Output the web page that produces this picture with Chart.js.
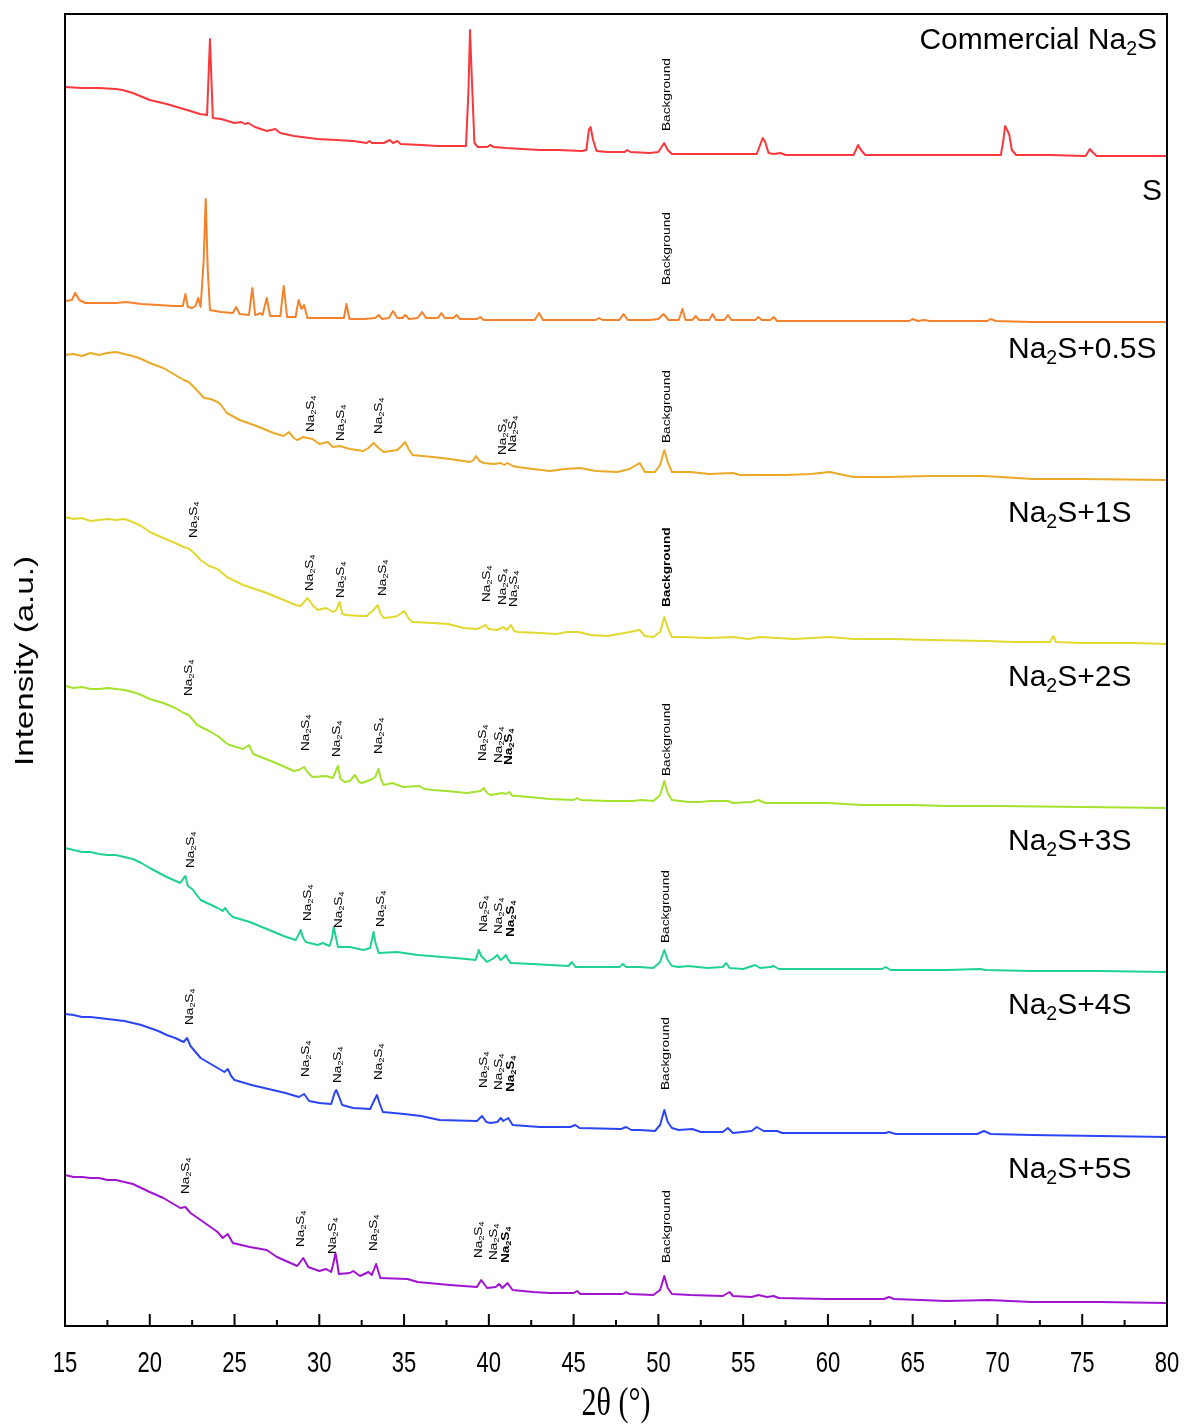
<!DOCTYPE html>
<html>
<head>
<meta charset="utf-8">
<script src="https://cdn.jsdelivr.net/npm/chart.js@4.4.1/dist/chart.umd.min.js"></script>
<style>
  html, body { margin: 0; padding: 0; background: #fff; }
  #wrap { width: 1185px; height: 1427px; }
</style>
</head>
<body>
<div id="wrap"><canvas id="xrd-chart" width="1185" height="1427"></canvas></div>
<script>
// XRD patterns: [2θ (deg), intensity (a.u.)], each measured from its own baseline
const commercialNa2S = [[15.0,69],[16.0,68],[17.0,68],[18.0,67],[18.4,66],[19.0,63],[20.0,56],[21.0,52],[22.0,47],[22.96,42],[23.38,41],[23.55,117],[23.72,38],[24.2,37],[25.0,33],[25.4,34],[25.6,32],[25.8,33],[26.2,29],[26.9,25],[27.4,27],[27.7,23],[28.5,20],[29.9,17],[31.0,16],[32.0,15],[32.8,13],[32.95,15],[33.1,13],[33.8,13],[34.15,16],[34.35,13],[34.6,15],[34.8,12],[36.0,11],[37.0,10],[38.65,10],[38.8,66],[38.89,126],[39.0,76],[39.15,13],[39.35,9],[39.9,9],[40.07,11],[40.3,9],[41.0,8],[42.0,7],[43.0,6],[44.1,6],[45.5,5],[45.75,6],[45.9,26],[46.0,29],[46.15,16],[46.35,5],[47.0,4],[48.0,4],[48.16,6],[48.35,4],[49.5,3],[50.0,4],[50.15,8],[50.34,13],[50.55,6],[50.8,2],[52.0,2],[54.0,2],[55.8,2],[56.0,11],[56.15,18],[56.3,14],[56.5,3],[56.8,2],[57.2,3],[57.5,1],[59.0,1],[61.5,1],[61.65,6],[61.78,11],[61.95,6],[62.2,1],[63.5,1],[65.0,1],[67.0,1],[69.0,1],[70.2,1],[70.35,16],[70.45,30],[70.6,25],[70.7,21],[70.85,6],[71.1,1],[73.0,1],[75.2,0],[75.45,7],[75.6,4],[75.85,0],[78.0,0],[80.0,0]];

const sulfur = [[15.0,21],[15.4,22],[15.6,29],[15.85,22],[16.2,19],[17.0,19],[18.0,19],[18.6,20],[19.5,18],[20.5,17],[21.4,16],[21.95,16],[22.1,28],[22.25,15],[22.5,14],[22.7,16],[22.85,24],[23.0,15],[23.18,62],[23.3,123],[23.42,52],[23.55,12],[24.2,10],[24.9,9],[25.1,15],[25.3,8],[25.85,7],[26.05,34],[26.22,7],[26.4,8],[26.5,9],[26.65,7],[26.9,24],[27.1,6],[27.7,6],[27.9,36],[28.1,5],[28.6,5],[28.78,22],[28.95,13],[29.1,17],[29.3,4],[30.0,4],[30.8,4],[31.45,4],[31.6,18],[31.78,3],[32.6,3],[33.3,4],[33.5,7],[33.7,3],[34.1,4],[34.35,11],[34.6,4],[34.9,4],[35.06,7],[35.3,3],[35.8,4],[36.06,10],[36.3,4],[37.0,4],[37.2,9],[37.4,4],[37.9,4],[38.1,7],[38.3,3],[39.3,3],[39.5,5],[39.7,2],[41.0,2],[42.7,2],[42.96,9],[43.2,2],[44.0,2],[46.3,2],[46.5,4],[46.7,2],[47.7,2],[47.95,8],[48.2,2],[49.5,2],[50.0,3],[50.3,8],[50.6,2],[51.2,2],[51.42,13],[51.6,2],[52.0,2],[52.2,6],[52.4,2],[53.0,2],[53.2,8],[53.4,2],[53.9,2],[54.1,7],[54.3,2],[55.7,2],[55.9,5],[56.1,2],[56.6,2],[56.8,5],[57.0,1],[60.0,1],[62.0,1],[64.8,1],[65.0,3],[65.3,1],[65.7,2],[66.0,1],[69.4,1],[69.6,3],[69.9,1],[72.0,0],[75.0,0],[80.0,0]];

const na2sPlus05S = [[15.0,125],[15.5,126],[16.0,124],[16.5,127],[17.0,125],[17.5,127],[18.0,128],[18.5,126],[19.0,124],[19.5,121],[20.0,117],[20.8,112],[21.4,106],[22.0,100],[22.3,98],[22.6,93],[23.2,82],[23.6,81],[24.0,78],[24.2,75],[24.55,67],[25.3,60],[26.3,54],[27.3,47],[27.9,44],[28.2,48],[28.5,42],[28.7,40],[29.05,43],[29.3,42],[29.6,41],[30.0,36],[30.5,38],[30.8,33],[31.2,34],[31.8,31],[32.6,29],[32.9,32],[33.2,37],[33.5,32],[33.8,28],[34.6,30],[34.85,34],[35.06,38],[35.3,30],[35.5,25],[36.1,24],[36.7,23],[37.7,21],[38.9,18],[39.1,20],[39.25,24],[39.45,19],[39.7,17],[40.3,16],[40.7,17],[40.9,15],[41.1,17],[41.4,14],[41.7,13],[42.6,11],[43.6,9],[44.5,11],[45.4,12],[46.3,9],[47.6,8],[48.3,11],[48.9,17],[49.2,8],[49.8,8],[50.1,15],[50.35,30],[50.55,18],[50.8,8],[51.9,8],[53.0,6],[54.4,7],[54.8,5],[56.0,5],[57.5,5],[59.0,6],[60.1,8],[61.5,3],[63.5,3],[66.0,4],[69.2,4],[72.1,1],[75.0,1],[80.0,0]];

const na2sPlus1S = [[15.0,127],[15.5,125],[16.0,126],[16.5,123],[17.0,124],[17.5,125],[18.0,124],[18.5,125],[19.0,122],[19.5,118],[20.0,112],[20.8,106],[21.5,101],[22.0,97],[22.35,95],[22.6,91],[23.0,84],[23.5,78],[24.0,75],[24.55,67],[25.5,59],[26.9,51],[27.9,44],[28.6,39],[28.9,38],[29.3,46],[29.6,39],[29.9,34],[30.4,36],[30.8,32],[31.0,34],[31.2,42],[31.35,30],[31.6,29],[32.4,28],[32.8,28],[33.2,34],[33.45,39],[33.6,31],[33.8,26],[34.3,27],[34.6,28],[35.0,33],[35.3,25],[35.5,22],[36.7,21],[37.6,20],[38.5,16],[39.3,15],[39.6,17],[39.8,19],[40.0,15],[40.5,14],[40.85,17],[41.05,14],[41.3,19],[41.5,13],[41.7,12],[43.0,11],[44.0,10],[44.6,12],[45.3,12],[46.0,9],[47.0,8],[48.0,11],[48.3,12],[48.9,14],[49.2,8],[49.7,7],[50.1,12],[50.35,27],[50.55,16],[50.8,7],[51.5,7],[52.9,6],[54.4,7],[55.3,5],[56.0,7],[57.0,6],[58.0,5],[59.1,6],[60.1,7],[61.5,5],[63.8,5],[66.0,4],[69.3,3],[71.0,2],[73.1,2],[73.3,8],[73.45,2],[75.0,1],[78.0,1],[80.0,0]];

const na2sPlus2S = [[15.0,122],[15.5,120],[16.0,121],[16.5,119],[17.0,119],[17.5,120],[18.0,119],[18.5,118],[19.0,116],[19.5,113],[20.0,109],[20.8,105],[21.5,100],[22.0,95],[22.3,93],[22.8,83],[23.5,77],[24.0,72],[24.5,65],[24.7,63],[25.5,59],[25.85,63],[26.1,54],[27.3,46],[28.5,37],[28.8,38],[29.1,41],[29.35,35],[29.6,31],[30.4,32],[30.8,30],[30.95,36],[31.1,42],[31.25,29],[31.5,26],[31.8,27],[32.1,33],[32.35,26],[32.5,25],[33.0,28],[33.3,31],[33.5,39],[33.65,28],[33.8,23],[34.3,25],[34.95,21],[35.9,22],[36.2,19],[36.7,18],[37.5,17],[38.7,15],[39.5,17],[39.7,20],[39.9,15],[40.1,13],[40.8,15],[41.0,14],[41.2,16],[41.4,12],[41.7,12],[43.6,9],[45.0,8],[45.2,10],[45.4,8],[47.0,7],[48.5,7],[49.0,8],[49.7,7],[50.1,13],[50.35,27],[50.55,15],[50.8,8],[51.8,6],[52.5,6],[53.0,7],[54.1,7],[54.4,5],[55.5,6],[55.9,8],[56.3,5],[57.0,5],[58.0,5],[60.0,5],[62.0,3],[65.0,3],[67.0,2],[70.0,2],[75.0,1],[80.0,0]];

const na2sPlus3S = [[15.0,124],[15.5,122],[16.0,120],[16.5,120],[17.0,118],[17.5,117],[18.0,117],[18.5,115],[19.0,113],[19.5,109],[20.0,104],[21.0,95],[21.8,89],[22.0,94],[22.1,96],[22.25,86],[22.5,83],[23.0,72],[24.0,64],[24.3,61],[24.45,64],[24.7,58],[24.9,55],[25.9,50],[26.9,43],[27.9,36],[28.6,32],[28.8,38],[28.9,42],[29.05,34],[29.2,30],[29.9,27],[30.2,29],[30.6,26],[30.75,34],[30.85,45],[30.95,37],[31.1,25],[31.8,25],[32.6,22],[33.0,24],[33.1,32],[33.2,40],[33.3,30],[33.5,19],[34.6,20],[35.8,17],[37.3,15],[38.7,13],[39.2,12],[39.3,16],[39.4,22],[39.55,16],[39.9,10],[40.3,14],[40.5,17],[40.7,12],[40.85,14],[41.0,17],[41.15,12],[41.3,9],[42.6,8],[43.6,7],[44.7,6],[44.9,10],[45.1,5],[46.0,5],[47.7,5],[47.9,8],[48.1,5],[48.9,5],[49.7,4],[50.1,10],[50.35,22],[50.55,12],[50.8,6],[51.2,5],[51.75,6],[52.9,4],[53.8,5],[54.0,9],[54.2,4],[55.0,3],[55.7,7],[56.0,4],[56.6,5],[56.8,6],[57.1,3],[60.0,3],[63.2,3],[63.4,5],[63.7,2],[67.0,2],[69.0,3],[69.3,2],[72.0,1],[76.0,1],[80.0,0]];

const na2sPlus4S = [[15.0,123],[15.5,122],[16.0,120],[16.5,120],[17.0,119],[17.5,118],[18.0,117],[18.5,116],[19.0,114],[19.5,112],[20.0,109],[20.5,106],[21.0,102],[21.5,99],[22.0,95],[22.2,99],[22.4,91],[22.6,87],[23.0,79],[23.5,74],[24.0,69],[24.4,65],[24.6,68],[24.8,61],[25.0,57],[26.0,52],[27.0,48],[28.0,44],[28.8,40],[29.1,43],[29.4,36],[30.0,34],[30.7,33],[30.9,44],[31.0,47],[31.15,41],[31.35,32],[32.0,29],[33.0,28],[33.25,37],[33.4,42],[33.55,34],[33.75,25],[35.0,23],[36.0,21],[37.1,17],[39.3,16],[39.6,21],[39.85,15],[40.1,14],[40.5,15],[40.7,19],[40.85,16],[41.15,19],[41.4,12],[43.0,10],[44.8,10],[45.1,12],[45.35,9],[47.8,8],[48.1,10],[48.4,7],[48.9,7],[49.8,6],[50.1,12],[50.35,27],[50.55,15],[50.8,9],[51.2,7],[52.0,8],[52.5,5],[53.8,5],[54.1,9],[54.4,4],[55.5,6],[55.8,10],[56.2,6],[57.0,6],[57.3,4],[60.0,4],[63.4,4],[63.6,5],[64.0,3],[68.8,3],[69.2,6],[69.6,3],[72.0,2],[76.0,1],[80.0,0]];

const na2sPlus5S = [[15.0,128],[15.5,126],[16.0,126],[16.5,125],[17.0,125],[17.5,123],[18.0,123],[18.5,121],[19.0,119],[19.5,115],[20.0,111],[20.8,105],[21.3,100],[21.8,95],[22.1,96],[22.4,90],[23.0,83],[23.5,77],[24.0,71],[24.3,65],[24.6,69],[24.9,60],[25.9,56],[26.9,53],[27.5,46],[28.3,40],[28.7,37],[29.05,45],[29.35,36],[30.0,32],[30.4,34],[30.7,31],[30.85,41],[30.95,50],[31.05,41],[31.15,29],[31.8,30],[32.0,32],[32.4,27],[32.9,31],[33.1,28],[33.35,39],[33.6,25],[35.2,24],[35.8,21],[37.7,18],[39.3,16],[39.55,23],[39.9,15],[40.4,16],[40.6,19],[40.8,15],[41.1,20],[41.4,13],[42.6,11],[43.6,10],[45.0,10],[45.2,12],[45.4,9],[47.9,9],[48.1,11],[48.3,9],[49.7,8],[50.1,13],[50.35,27],[50.55,15],[50.8,9],[51.9,8],[53.8,7],[54.2,11],[54.4,7],[55.5,6],[55.9,8],[56.4,6],[56.8,7],[57.1,5],[60.0,4],[63.3,4],[63.6,6],[63.9,4],[67.0,2],[69.5,3],[72.0,1],[76.0,1],[80.0,0]];

const patterns = [commercialNa2S, sulfur, na2sPlus05S, na2sPlus1S, na2sPlus2S, na2sPlus3S, na2sPlus4S, na2sPlus5S];
const sampleNames = ['Commercial Na_2S', 'S', 'Na_2S+0.5S', 'Na_2S+1S', 'Na_2S+2S', 'Na_2S+3S', 'Na_2S+4S', 'Na_2S+5S'];
const stackOffsets = [1170, 1004, 846, 682, 518, 354, 189, 23];
const lineColors = ['#f8383c', '#f5822a', '#eaa927', '#e3d830', '#a4e22d', '#1fd28f', '#2b45f5', '#a013d0'];
const xTicks = [15, 20, 25, 30, 35, 40, 45, 50, 55, 60, 65, 70, 75, 80];

// peak annotations: [2θ, stacked intensity at the foot of the text, text, bold]
const peakMarks = [
    [50.46, 1195, 'Background', false],
    [50.46, 1041, 'Background', false],
    [29.45, 894, 'Na_2S_4', false], [31.22, 885, 'Na_2S_4', false], [33.47, 892, 'Na_2S_4', false],
    [40.78, 871, 'Na_2S_4', false], [41.37, 874, 'Na_2S_4', false], [50.46, 883, 'Background', false],
    [22.55, 788, 'Na_2S_4', false], [29.39, 735, 'Na_2S_4', false], [31.22, 728, 'Na_2S_4', false],
    [33.7, 730, 'Na_2S_4', false], [39.84, 724, 'Na_2S_4', false], [40.78, 721, 'Na_2S_4', false],
    [41.43, 719, 'Na_2S_4', false], [50.46, 719, 'Background', true],
    [22.26, 630, 'Na_2S_4', false], [29.16, 575, 'Na_2S_4', false], [30.99, 569, 'Na_2S_4', false],
    [33.47, 572, 'Na_2S_4', false], [39.6, 565, 'Na_2S_4', false], [40.55, 563, 'Na_2S_4', false],
    [41.14, 561, 'Na_2S_4', true], [50.46, 550, 'Background', false],
    [22.38, 458, 'Na_2S_4', false], [29.28, 405, 'Na_2S_4', false], [31.1, 398, 'Na_2S_4', false],
    [33.59, 399, 'Na_2S_4', false], [39.66, 394, 'Na_2S_4', false], [40.55, 392, 'Na_2S_4', false],
    [41.26, 389, 'Na_2S_4', true], [50.4, 383, 'Background', false],
    [22.32, 301, 'Na_2S_4', false], [29.16, 249, 'Na_2S_4', false], [31.05, 243, 'Na_2S_4', false],
    [33.47, 246, 'Na_2S_4', false], [39.66, 238, 'Na_2S_4', false], [40.55, 236, 'Na_2S_4', false],
    [41.26, 234, 'Na_2S_4', true], [50.4, 236, 'Background', false],
    [22.08, 132, 'Na_2S_4', false], [28.86, 79, 'Na_2S_4', false], [30.75, 72, 'Na_2S_4', false],
    [33.17, 75, 'Na_2S_4', false], [39.37, 68, 'Na_2S_4', false], [40.25, 66, 'Na_2S_4', false],
    [40.96, 63, 'Na_2S_4', true], [50.46, 63, 'Background', false]
];

const SANS = '"Liberation Sans", Arial, sans-serif';
const SERIF = '"Liberation Serif", "Times New Roman", serif';

/**
 * Split "Na_2S_4" into plain / subscript pieces
 */
function richParts(text) {
    const parts = [];
    text.split(/(_\d)/).forEach(p => {
        if (!p) return;
        if (p[0] === '_') parts.push({ t: p.slice(1), sub: true });
        else parts.push({ t: p, sub: false });
    });
    return parts;
}

function richWidth(ctx, text, size, bold) {
    let w = 0;
    richParts(text).forEach(p => {
        ctx.font = (bold ? 'bold ' : '') + (p.sub ? size * 0.65 : size) + 'px ' + SANS;
        w += ctx.measureText(p.t).width;
    });
    return w;
}

// draws left-aligned on an alphabetic baseline at (x, y)
function drawRich(ctx, text, x, y, size, bold) {
    ctx.textAlign = 'left';
    ctx.textBaseline = 'alphabetic';
    richParts(text).forEach(p => {
        ctx.font = (bold ? 'bold ' : '') + (p.sub ? size * 0.65 : size) + 'px ' + SANS;
        ctx.fillText(p.t, x, p.sub ? y + size * 0.2 : y);
        x += ctx.measureText(p.t).width;
    });
}

const axisDecor = {
    id: 'axisDecor',
    afterDatasetsDraw(chart) {
        const { ctx, chartArea: a, scales: { x, y } } = chart;
        ctx.save();
        ctx.fillStyle = '#000';
        ctx.strokeStyle = '#000';

        // frame
        ctx.lineWidth = 2;
        ctx.strokeRect(a.left, a.top, a.right - a.left, a.bottom - a.top);

        // inward ticks on the bottom axis
        xTicks.forEach((v, i) => {
            const px = x.getPixelForValue(v);
            ctx.beginPath();
            ctx.moveTo(px, a.bottom);
            ctx.lineTo(px, a.bottom - 12);
            ctx.stroke();
            if (i < xTicks.length - 1) {
                const mx = x.getPixelForValue((v + xTicks[i + 1]) / 2);
                ctx.beginPath();
                ctx.moveTo(mx, a.bottom);
                ctx.lineTo(mx, a.bottom - 6);
                ctx.stroke();
            }
            // tick label, slightly tall and narrow like the original
            ctx.save();
            ctx.translate(px, a.bottom + 46);
            ctx.scale(1, 1.3);
            ctx.font = '22px ' + SANS;
            ctx.textAlign = 'center';
            ctx.textBaseline = 'alphabetic';
            ctx.fillText(String(v), 0, 0);
            ctx.restore();
        });

        // x axis title
        ctx.save();
        ctx.translate((a.left + a.right) / 2, a.bottom + 89);
        ctx.scale(1, 1.3);
        ctx.font = '30px ' + SERIF;
        ctx.textAlign = 'center';
        ctx.textBaseline = 'alphabetic';
        ctx.fillText('2\u03B8 (\u00B0)', 0, 0);
        ctx.restore();

        // y axis title
        ctx.save();
        ctx.translate(26, 661);
        ctx.rotate(-Math.PI / 2);
        ctx.scale(1.3, 1);
        ctx.font = '25.5px ' + SANS;
        ctx.textAlign = 'center';
        ctx.textBaseline = 'middle';
        ctx.fillText('Intensity (a.u.)', 0, 0);
        ctx.restore();

        // sample names
        const nameBaselines = [35, 186, 344, 508, 672, 836, 1000, 1164];
        sampleNames.forEach((name, i) => {
            const size = 30;
            let left;
            if (i === 0) left = a.right - 10 - richWidth(ctx, name, size, false);
            else if (i === 1) left = a.right - 5 - richWidth(ctx, name, size, false);
            else left = a.right - 159;
            drawRich(ctx, name, left, a.top + nameBaselines[i], size, false);
        });

        // rotated peak labels
        peakMarks.forEach(([tt, v, text, bold]) => {
            const size = 10.5;
            ctx.save();
            ctx.translate(x.getPixelForValue(tt), y.getPixelForValue(v));
            ctx.rotate(-Math.PI / 2);
            ctx.scale(1.3, 1);
            drawRich(ctx, text, 0, size * 0.358, size, bold);
            ctx.restore();
        });

        ctx.restore();
    }
};

new Chart(document.getElementById('xrd-chart'), {
    type: 'line',
    data: {
        datasets: patterns.map((pts, i) => ({
            label: sampleNames[i],
            data: pts.map(([tt, inten]) => ({ x: tt, y: inten + stackOffsets[i] })),
            borderColor: lineColors[i],
            borderWidth: 2,
            pointRadius: 0,
            tension: 0,
            borderJoinStyle: 'round',
            fill: false
        }))
    },
    options: {
        responsive: false,
        animation: false,
        devicePixelRatio: 1,
        layout: { padding: { left: 65, top: 14, right: 18, bottom: 101 } },
        scales: {
            x: { type: 'linear', min: 15, max: 80, display: false },
            y: { type: 'linear', min: 0, max: 1312, display: false }
        },
        plugins: {
            legend: { display: false },
            tooltip: { enabled: false }
        }
    },
    plugins: [axisDecor]
});
</script>
</body>
</html>
